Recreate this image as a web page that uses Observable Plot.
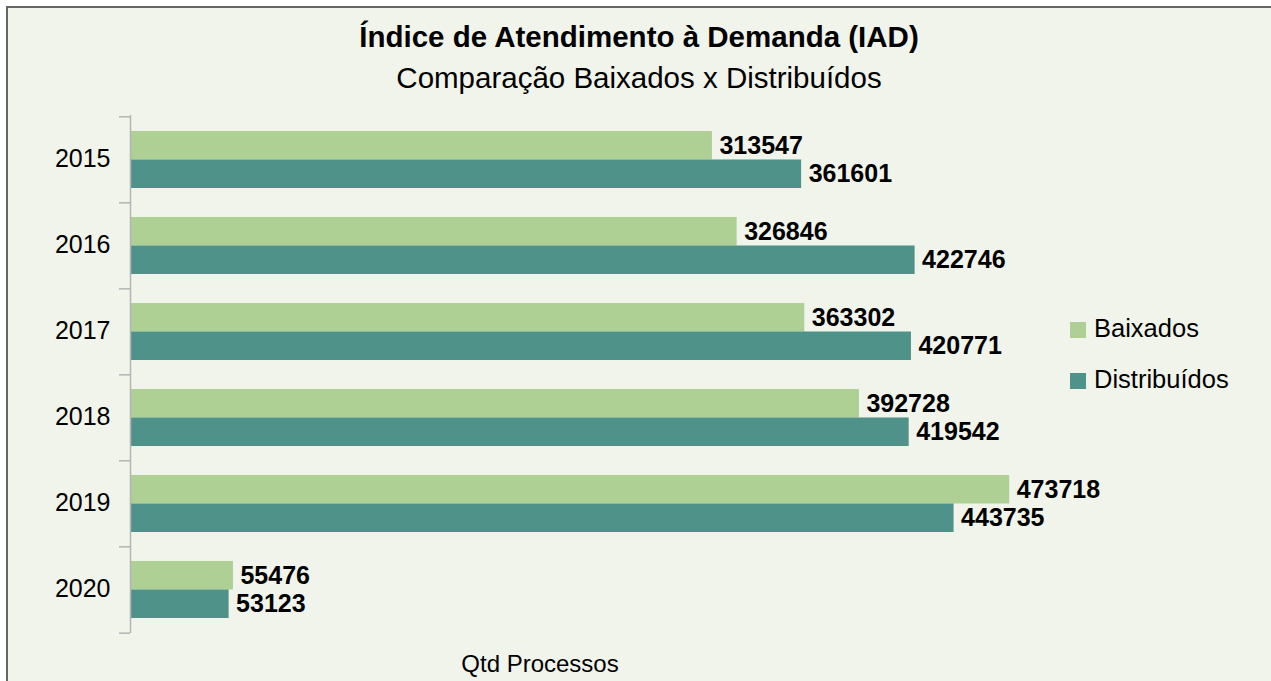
<!DOCTYPE html>
<html><head><meta charset="utf-8">
<script src="https://cdn.jsdelivr.net/npm/d3@7"></script>
<script src="https://cdn.jsdelivr.net/npm/@observablehq/plot@0.6"></script>
<style>
body{margin:0;background:#fff;font-family:"Liberation Sans",Arial,sans-serif;color:#000;}
#frame{position:absolute;left:6px;top:6px;width:1300px;height:700px;background:#f1f4ea;border:2px solid #666;box-sizing:border-box;}
#chart{position:absolute;left:0;top:0;}
.t{position:absolute;left:0;width:1278px;text-align:center;white-space:nowrap;}
#title{top:22px;font-size:29.5px;line-height:29.5px;font-weight:bold;}
#subtitle{top:63px;font-size:29.5px;line-height:29.5px;}
.sw{position:absolute;width:16px;height:16px;}
.lt{position:absolute;font-size:25.5px;line-height:25.5px;white-space:nowrap;}
#xlabel{position:absolute;left:440px;width:200px;text-align:center;top:652px;font-size:24px;line-height:24px;}
</style>
</head><body>
<div id="frame"></div>
<div id="chart"></div>
<div class="t" id="title">Índice de Atendimento à Demanda (IAD)</div>
<div class="t" id="subtitle">Comparação Baixados x Distribuídos</div>
<div id="legend"></div>
<div id="xlabel">Qtd Processos</div>
<script>
const years = ["2015","2016","2017","2018","2019","2020"];
const baixados = [313547, 326846, 363302, 392728, 473718, 55476];
const distribuidos = [361601, 422746, 420771, 419542, 443735, 53123];
const seriesNames = ["Baixados", "Distribuídos"];
const seriesColors = ["#aed094", "#4f9289"];
const xMax = 500000;

const W = 1271, H = 681;
const mTop = 115, mBottom = 48, mLeft = 130, mRight = 213;
const step = (H - mTop - mBottom) / years.length;
const padInner = 0.34;
const bw = step * (1 - padInner);

const rows = years.flatMap((y, i) => [
  {year: y, series: seriesNames[0], value: baixados[i]},
  {year: y, series: seriesNames[1], value: distribuidos[i]}
]);
const rowsB = rows.filter(d => d.series === seriesNames[0]);
const rowsD = rows.filter(d => d.series === seriesNames[1]);

const axisColor = "#b4b4b4";

const chart = Plot.plot({
  width: W, height: H,
  marginTop: mTop, marginBottom: mBottom, marginLeft: mLeft, marginRight: mRight,
  style: {background: "transparent", fontFamily: "Liberation Sans, Arial, sans-serif", color: "#000", overflow: "visible"},
  x: {domain: [0, xMax], axis: null},
  y: {domain: years, paddingInner: padInner, paddingOuter: padInner / 2, label: null, axis: null},
  marks: [
    Plot.barX(rowsB, {y: "year", x: "value", fill: seriesColors[0], insetBottom: bw / 2}),
    Plot.barX(rowsD, {y: "year", x: "value", fill: seriesColors[1], insetTop: bw / 2}),
    Plot.ruleX([0], {stroke: axisColor, strokeWidth: 1.5}),
    Plot.axisY(years, {tickSize: 11, tickFormat: () => "", dy: -step / 2, stroke: axisColor, strokeWidth: 1.5}),
    Plot.axisY([years[years.length - 1]], {tickSize: 11, tickFormat: () => "", dy: step / 2, stroke: axisColor, strokeWidth: 1.5}),
    Plot.axisY({tickSize: 0, tickPadding: 20, fontSize: 25, fill: "#000", label: null, dy: -1.5}),
    Plot.text(rowsB, {y: "year", x: "value", text: d => String(d.value), dy: -bw / 4, dx: 7, textAnchor: "start", fontSize: 25, fontWeight: "bold", fill: "#000"}),
    Plot.text(rowsD, {y: "year", x: "value", text: d => String(d.value), dy: bw / 4, dx: 7, textAnchor: "start", fontSize: 25, fontWeight: "bold", fill: "#000"})
  ]
});
document.getElementById("chart").appendChild(chart);

const legend = document.getElementById("legend");
seriesNames.forEach((name, i) => {
  const top = 322 + i * 51;
  const sw = document.createElement("div");
  sw.className = "sw";
  sw.style.left = "1070px"; sw.style.top = top + "px"; sw.style.background = seriesColors[i];
  legend.appendChild(sw);
  const t = document.createElement("div");
  t.className = "lt";
  t.style.left = "1094px"; t.style.top = (top - 6) + "px";
  t.textContent = name;
  legend.appendChild(t);
});
</script>
</body></html>
